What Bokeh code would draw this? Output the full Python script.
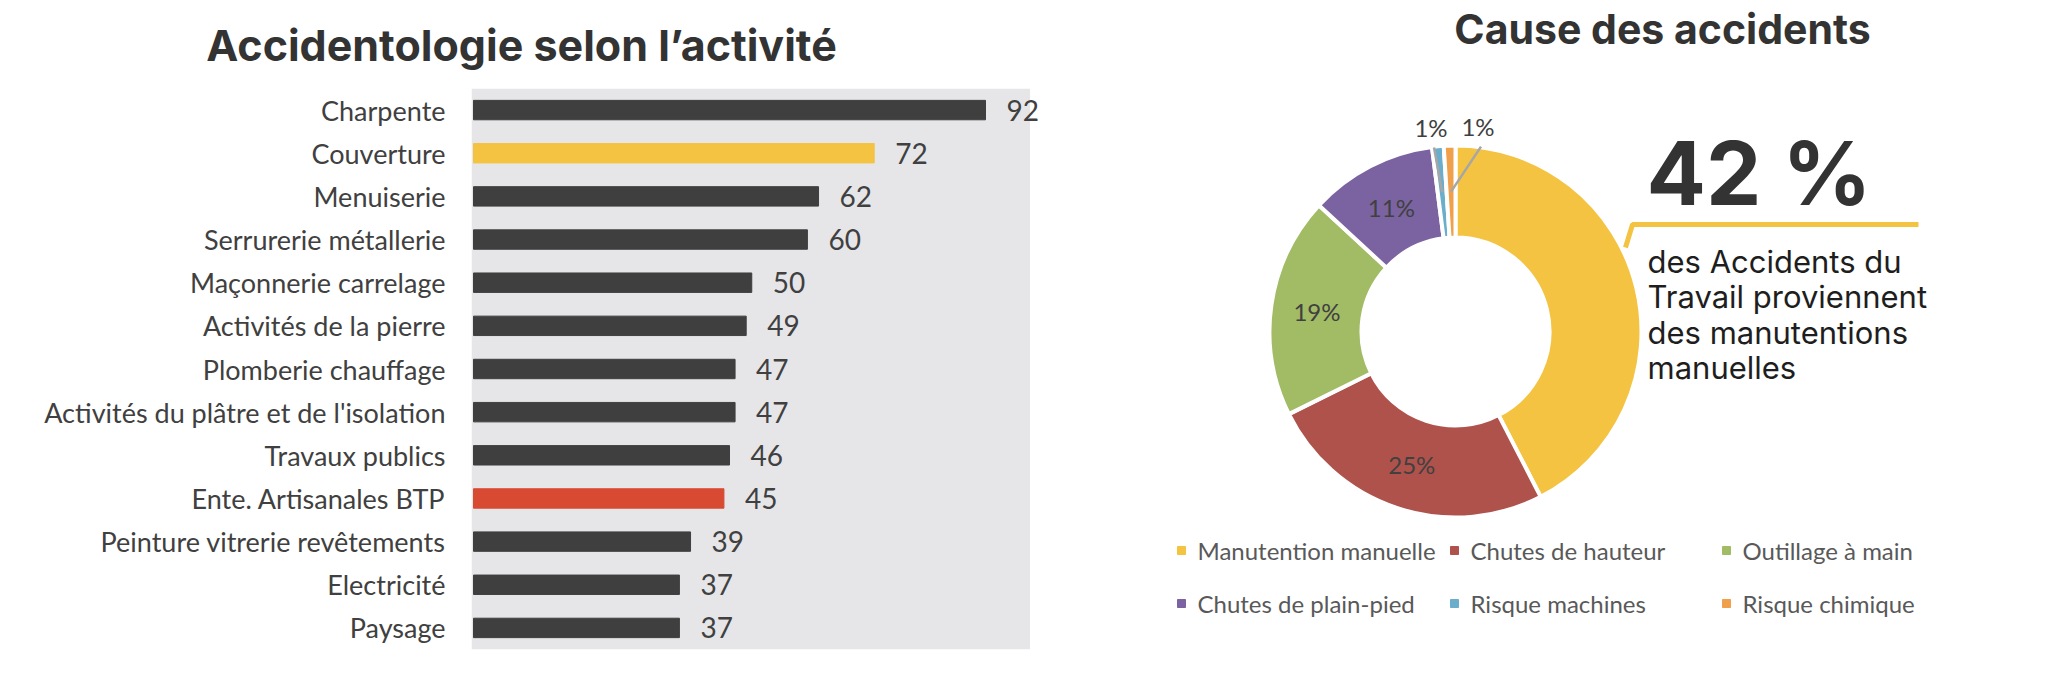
import numpy as np
from bokeh.plotting import figure
from bokeh.models import FactorRange, Range1d, BoxAnnotation, Label, ColumnDataSource
from bokeh.layouts import row, column
from bokeh.embed import file_html
from bokeh.resources import INLINE
from bokeh.core.properties import value

# ---------------- data ----------------
categories = ["Charpente", "Couverture", "Menuiserie", "Serrurerie métallerie",
              "Maçonnerie carrelage", "Activités de la pierre", "Plomberie chauffage",
              "Activités du plâtre et de l'isolation", "Travaux publics",
              "Ente. Artisanales BTP", "Peinture vitrerie revêtements",
              "Electricité", "Paysage"]
counts = [92, 72, 62, 60, 50, 49, 47, 47, 46, 45, 39, 37, 37]
highlight = ["dark", "yellow", "dark", "dark", "dark", "dark", "dark",
             "dark", "dark", "red", "dark", "dark", "dark"]

causes = ["Manutention manuelle", "Chutes de hauteur", "Outillage à main",
          "Chutes de plain-pied", "Risque machines", "Risque chimique"]
shares = [42, 25, 19, 11, 1, 1]

bar_palette = {"dark": "#3F3F3F", "yellow": "#F4C342", "red": "#D84A32"}
cause_colors = ["#F4C342", "#B0524C", "#A2BB65", "#7B63A1", "#6BAECB", "#F0A04A"]

TXT = "#404040"
TOTAL_H = 658
TITLE_H = 80


def plain(p):
    try:
        p.title = None
    except Exception:
        p.title.visible = False
    try:
        p.frame_align = False
    except Exception:
        pass
    p.grid.visible = False
    p.outline_line_color = None


# ---------------- left title strip ----------------
W1 = 1049
t1 = figure(width=W1, height=TITLE_H, x_range=Range1d(0, W1), y_range=Range1d(0, TITLE_H),
            output_backend="svg", toolbar_location=None, min_border=0,
            x_axis_location=None, y_axis_location=None)
plain(t1)
t1.add_layout(Label(x=521, y=36, text="Accidentologie selon l’activité", text_align="center",
                    text_baseline="middle", text_font="Inter", text_font_size="43px",
                    text_font_style="bold", text_color="#333333"))

# ---------------- left: bar chart ----------------
src = ColumnDataSource(dict(cat=categories, count=counts,
                            color=[bar_palette[h] for h in highlight],
                            label=[str(c) for c in counts]))
p1 = figure(width=W1, height=TOTAL_H - TITLE_H, y_range=FactorRange(*categories[::-1]),
            x_range=Range1d(-0.36, 103.5), output_backend="svg", toolbar_location=None,
            min_border_left=471, min_border_right=0, min_border_top=8, min_border_bottom=9)
plain(p1)
p1.add_layout(BoxAnnotation(left=-0.36, right=100, fill_color="#E6E6E9", fill_alpha=1,
                            line_color=None, level="underlay"))
p1.hbar(y="cat", right="count", left=0, height=0.45, color="color", source=src)
p1.text(x="count", y="cat", text="label", source=src, x_offset=21, text_baseline="middle",
        text_font=value("Lato"), text_font_size="28px", text_color=TXT)
p1.xaxis.visible = False
ya = p1.yaxis[0]
ya.axis_line_color = None
ya.major_tick_line_color = None
ya.minor_tick_line_color = None
ya.major_tick_out = 0
ya.major_label_standoff = 26
ya.major_label_text_font = "Lato"
ya.major_label_text_font_size = "27px"
ya.major_label_text_color = TXT

# ---------------- right: donut ----------------
W2 = 999
p2 = figure(width=W2, height=TOTAL_H, x_range=Range1d(0, W2), y_range=Range1d(0, TOTAL_H),
            output_backend="svg", toolbar_location=None, min_border=0,
            x_axis_location=None, y_axis_location=None)
plain(p2)

cx, cy = 406, 327
fr = np.array(shares, dtype=float) / sum(shares)
cum = np.concatenate([[0.0], np.cumsum(fr)])
start = np.pi / 2 - 2 * np.pi * cum[:-1]
end = np.pi / 2 - 2 * np.pi * cum[1:]
mid = (start + end) / 2
p2.annular_wedge(x=cx, y=cy, inner_radius=94, outer_radius=186, start_angle=start,
                 end_angle=end, direction="clock", color=cause_colors,
                 line_color="white", line_width=4)

# inside labels (the first slice is highlighted separately)
r_mid = 140
inside = [1, 2, 3]
p2.text(x=[cx + r_mid * np.cos(mid[i]) for i in inside],
        y=[cy + r_mid * np.sin(mid[i]) for i in inside],
        text=[f"{shares[i]}%" for i in inside], text_align="center",
        text_baseline="middle", text_font=value("Lato"), text_font_size="24px",
        text_color=TXT)

# outside labels with leader lines for the small slices
outside = [4, 5]
dx_off = [-5, 29]
for i, off in zip(outside, dx_off):
    lx = cx + 205 * np.cos(mid[i]) + off
    ly = cy + 205 * np.sin(mid[i])
    p2.text(x=[lx], y=[ly], text=[f"{shares[i]}%"], text_align="center",
            text_baseline="middle", text_font=value("Lato"), text_font_size="24px",
            text_color=TXT)
    p2.line(x=[lx + 3, cx + r_mid * np.cos(mid[i])],
            y=[ly - 20, cy + r_mid * np.sin(mid[i])], line_color="#A6A6A6", line_width=2.5)

# titles / annotation
p2.add_layout(Label(x=613, y=630, text="Cause des accidents", text_align="center",
                    text_baseline="middle",
                    text_font="Inter", text_font_size="41px", text_font_style="bold",
                    text_color="#333333"))
p2.add_layout(Label(x=597, y=486, text="42 %", text_align="left",
                    text_baseline="middle",
                    text_font="Inter", text_font_size="88px", text_font_style="bold",
                    text_color="#333333"))
p2.line(x=[576, 583, 869], y=[411, 434, 434], line_color="#F4C342", line_width=5)
para = ["des Accidents du", "Travail proviennent", "des manutentions", "manuelles"]
for k, line in enumerate(para):
    p2.add_layout(Label(x=598, y=397 - 35.3 * k, text=line, text_align="left",
                        text_baseline="middle",
                        text_font="Inter", text_font_size="31px", text_color="#1E1E1E"))

# legend (3 columns x 2 rows)
col_x = [132, 405, 677]
row_y = [108, 55]
lx = [col_x[i % 3] for i in range(len(causes))]
ly = [row_y[i // 3] for i in range(len(causes))]
p2.scatter(x=lx, y=ly, marker="square", size=8, color=cause_colors)
p2.text(x=[v + 16 for v in lx], y=ly, text=causes, text_baseline="middle",
        text_font=value("Lato"), text_font_size="24px", text_color="#595959")

layout = row(column(t1, p1, spacing=0), p2, spacing=0)
open("out.html", "w").write(file_html(layout, INLINE))
